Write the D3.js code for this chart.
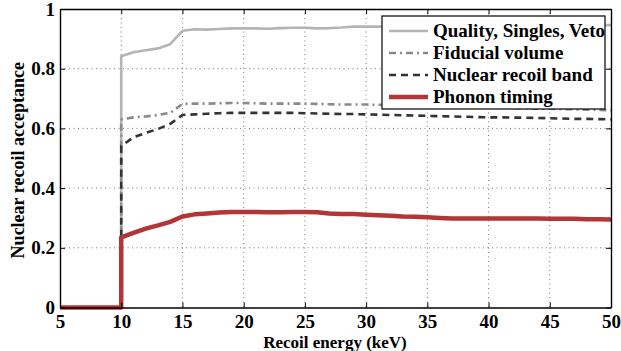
<!DOCTYPE html>
<html><head><meta charset="utf-8">
<script src="https://cdn.jsdelivr.net/npm/d3@7"></script>
</head><body style="margin:0;background:#fff"><svg id="c" width="621" height="351" style="display:block;font-family:'Liberation Serif',serif;font-weight:bold"></svg>
<script>
const energy = [5, 10, 10, 11, 12, 13, 14, 15, 16, 17, 18, 19, 20, 21, 22, 23, 24, 25, 26, 27, 28, 29, 30, 31, 32, 33, 34, 35, 36, 37, 38, 39, 40, 41, 42, 43, 44, 45, 46, 47, 48, 49, 50];
const quality = [0, 0, 0.842, 0.855, 0.862, 0.868, 0.882, 0.927, 0.932, 0.931, 0.933, 0.935, 0.935, 0.935, 0.934, 0.936, 0.937, 0.937, 0.935, 0.936, 0.938, 0.941, 0.941, 0.941, 0.940, 0.940, 0.941, 0.940, 0.939, 0.940, 0.940, 0.941, 0.941, 0.940, 0.941, 0.942, 0.943, 0.944, 0.944, 0.945, 0.945, 0.946, 0.946];
const fiducial = [0, 0, 0.630, 0.637, 0.640, 0.645, 0.652, 0.682, 0.683, 0.683, 0.684, 0.685, 0.685, 0.684, 0.683, 0.683, 0.683, 0.683, 0.682, 0.681, 0.680, 0.680, 0.680, 0.679, 0.678, 0.677, 0.676, 0.675, 0.674, 0.673, 0.672, 0.671, 0.670, 0.669, 0.668, 0.667, 0.666, 0.666, 0.665, 0.664, 0.663, 0.662, 0.661];
const nrBand = [0, 0, 0.541, 0.570, 0.585, 0.598, 0.615, 0.645, 0.647, 0.649, 0.651, 0.652, 0.652, 0.652, 0.652, 0.652, 0.652, 0.651, 0.650, 0.649, 0.648, 0.648, 0.647, 0.646, 0.645, 0.644, 0.643, 0.642, 0.641, 0.640, 0.639, 0.638, 0.637, 0.637, 0.636, 0.636, 0.635, 0.634, 0.633, 0.632, 0.632, 0.631, 0.630];
const phonon = [0, 0, 0.235, 0.250, 0.264, 0.275, 0.287, 0.305, 0.312, 0.315, 0.318, 0.320, 0.320, 0.320, 0.319, 0.319, 0.320, 0.320, 0.319, 0.315, 0.313, 0.313, 0.311, 0.309, 0.307, 0.305, 0.304, 0.302, 0.300, 0.298, 0.298, 0.298, 0.298, 0.298, 0.298, 0.298, 0.298, 0.297, 0.297, 0.297, 0.296, 0.296, 0.295];
const xTicks = [5, 10, 15, 20, 25, 30, 35, 40, 45, 50];
const yTicks = [0, 0.2, 0.4, 0.6, 0.8, 1];
const seriesNames = ["Quality, Singles, Veto", "Fiducial volume", "Nuclear recoil band", "Phonon timing"];

const series = [
  {name: seriesNames[0], values: quality, color: "#b4b4b4", width: 2.6, dash: null},
  {name: seriesNames[1], values: fiducial, color: "#8a8a8a", width: 2.6, dash: "7,4,2,4"},
  {name: seriesNames[2], values: nrBand, color: "#333333", width: 2.6, dash: "7,5"},
  {name: seriesNames[3], values: phonon, color: "#b23538", width: 4.5, dash: null}
];

const FONT = "'Liberation Serif', serif";
const svg = d3.select("#c");
const L = 60, R = 611, T = 9, B = 307.5;
const x = d3.scaleLinear().domain([5, 50]).range([L, R]);
const y = d3.scaleLinear().domain([0, 1]).range([B, T]);

function serifText(sel, size) {
  return sel.attr("style", `font-family:${FONT};font-weight:bold;font-size:${size}px`).attr("fill", "#000");
}

// grid
const g = svg.append("g");
g.selectAll(".gx").data(xTicks.slice(1, -1)).enter().append("line")
  .attr("x1", d => x(d)).attr("x2", d => x(d)).attr("y1", T).attr("y2", B)
  .attr("stroke", "#555").attr("stroke-width", 0.8).attr("stroke-dasharray", "1,3.5");
g.selectAll(".gy").data(yTicks.slice(1, -1)).enter().append("line")
  .attr("x1", L).attr("x2", R).attr("y1", d => y(d)).attr("y2", d => y(d))
  .attr("stroke", "#555").attr("stroke-width", 0.8).attr("stroke-dasharray", "1,3.5");

// lines
const line = d3.line().x((d, i) => x(energy[i])).y(d => y(d));
series.forEach(s => {
  svg.append("path").datum(s.values).attr("d", line)
    .attr("fill", "none").attr("stroke", s.color).attr("stroke-width", s.width)
    .attr("stroke-dasharray", s.dash).attr("stroke-linejoin", "round");
});

// axes (box with inward ticks)
const fmt = d => d === 0 || d === 1 ? String(d) : d3.format(".1f")(d);
const axB = svg.append("g").attr("transform", `translate(0,${B})`)
  .call(d3.axisBottom(x).tickValues(xTicks).tickSizeInner(-5).tickSizeOuter(0).tickPadding(7));
const axT = svg.append("g").attr("transform", `translate(0,${T})`)
  .call(d3.axisTop(x).tickValues(xTicks).tickSizeInner(-5).tickSizeOuter(0).tickFormat(""));
const axL = svg.append("g").attr("transform", `translate(${L},0)`)
  .call(d3.axisLeft(y).tickValues(yTicks).tickFormat(fmt).tickSizeInner(-5).tickSizeOuter(0).tickPadding(5));
const axR = svg.append("g").attr("transform", `translate(${R},0)`)
  .call(d3.axisRight(y).tickValues(yTicks).tickSizeInner(-5).tickSizeOuter(0).tickFormat(""));
[axB, axT, axL, axR].forEach(a => {
  a.attr("font-family", null).attr("font-size", null);
  a.selectAll("path").attr("stroke", "#000").attr("stroke-width", 1.4);
  a.selectAll("line").attr("stroke", "#000").attr("stroke-width", 1);
  serifText(a.selectAll("text"), 19);
});

// axis labels
serifText(svg.append("text").attr("x", 335).attr("y", 347.5).attr("text-anchor", "middle"), 17)
  .text("Recoil energy (keV)");
serifText(svg.append("text").attr("transform", `translate(24,${(T + B) / 2 + 2}) rotate(-90)`)
  .attr("text-anchor", "middle"), 18)
  .text("Nuclear recoil acceptance");

// legend
const lg = svg.append("g");
const lx = 382, ly = 16, lw = 223, lh = 93;
lg.append("rect").attr("x", lx).attr("y", ly).attr("width", lw).attr("height", lh)
  .attr("fill", "#fff").attr("stroke", "#000").attr("stroke-width", 1.2);
series.forEach((s, i) => {
  const yy = ly + 15 + i * 22;
  lg.append("line").attr("x1", lx + 7).attr("x2", lx + 46).attr("y1", yy).attr("y2", yy)
    .attr("stroke", s.color).attr("stroke-width", s.width).attr("stroke-dasharray", s.dash);
  serifText(lg.append("text").attr("x", lx + 51).attr("y", yy + 6), 19).text(s.name);
});
</script></body></html>
